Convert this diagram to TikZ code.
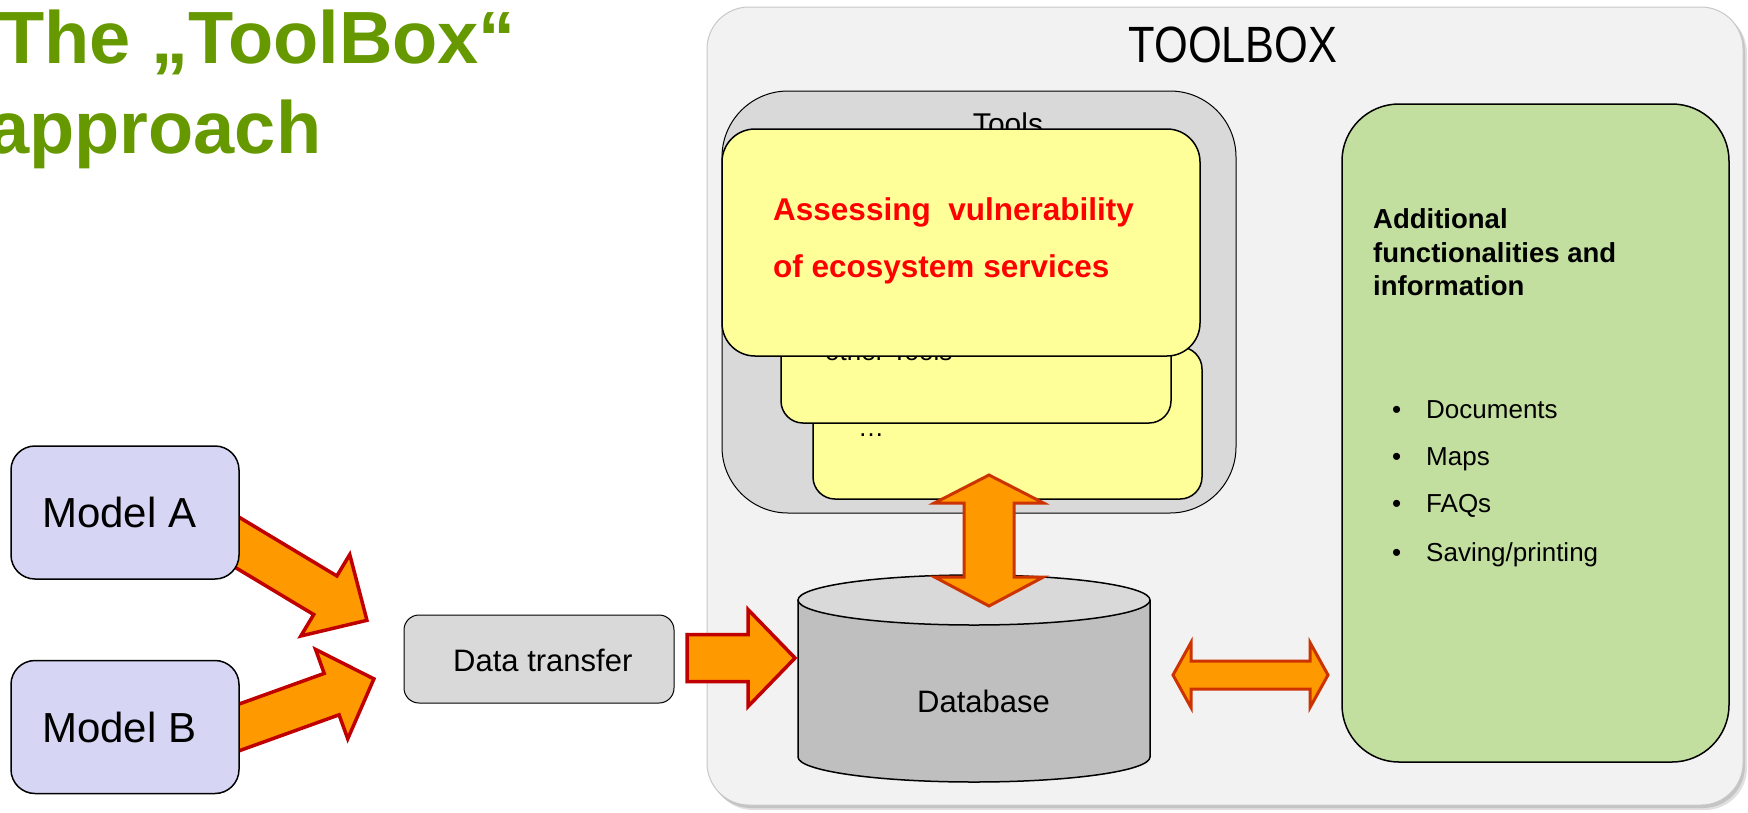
\documentclass[tikz,border=0pt]{standalone}
\usepackage{fontspec}
\setmainfont{Liberation Sans}
\definecolor{titlegreen}{HTML}{669900}
\definecolor{panelfill}{HTML}{F2F2F2}
\definecolor{panelline}{HTML}{C8C8C8}
\definecolor{toolsfill}{HTML}{D9D9D9}
\definecolor{yellowfill}{HTML}{FFFF99}
\definecolor{greenfill}{HTML}{C3DF9F}
\definecolor{modelfill}{HTML}{D6D6F4}
\definecolor{dtfill}{HTML}{D9D9D9}
\definecolor{dbtop}{HTML}{D9D9D9}
\definecolor{dbbody}{HTML}{BFBFBF}
\definecolor{arrowfill}{HTML}{FF9900}
\definecolor{arrowred}{HTML}{C00000}
\definecolor{arroworange}{HTML}{CC3300}
\definecolor{textred}{HTML}{FF0000}
\newcommand{\fsz}[1]{\fontsize{#1}{#1}\selectfont}
\tikzset{
  lbl/.style={inner sep=0pt, anchor=base west},
  shapebox/.style={inner sep=0pt, draw=black, line width=1.5pt},
  panelbox/.style={inner sep=0pt, fill=panelfill, draw=panelline, line width=1pt, rounded corners=42pt},
  toolsbox/.style={inner sep=0pt, fill=toolsfill, draw=black, line width=1pt, rounded corners=66pt},
  yellowbox/.style={shapebox, fill=yellowfill},
  greenbox/.style={shapebox, fill=greenfill, rounded corners=57pt},
  modelbox/.style={shapebox, fill=modelfill, rounded corners=24pt, minimum width=228pt, minimum height=133pt},
  dtbox/.style={shapebox, fill=dtfill, line width=1pt, rounded corners=15pt},
  fatarrow/.style={fill=arrowfill, draw=arrowred, line width=3.5pt, line join=miter},
  dblarrow/.style={fill=arrowfill, draw=arroworange, line width=3pt, line join=miter},
}
\begin{document}
\begin{tikzpicture}[x=1pt,y=-1pt]
\useasboundingbox (0,0) rectangle (1748,812);
\fill[white] (0,0) rectangle (1748,812);

% title
\node[lbl, text=titlegreen, font=\fsz{74}\bfseries] (title1) at (-1,63) {The „ToolBox“};
\node[lbl, text=titlegreen, font=\fsz{74}\bfseries] (title2) at (-12,153) {approach};

% toolbox panel with shadow
\fill[black, opacity=0.12, rounded corners=42pt] (711,11) rectangle (1747,810);
\fill[black, opacity=0.12, rounded corners=42pt] (709,9) rectangle (1745,808);
\node[panelbox, minimum width=1036pt, minimum height=798pt] (toolbox) at (1225,406) {};
\node[inner sep=0pt, anchor=base, font=\fsz{51}] (toolboxlbl) at (1233,62) {\scalebox{0.85}[1]{TOOLBOX}};

% tools container
\node[toolsbox, minimum width=514pt, minimum height=422pt] (tools) at (979,302) {};
\node[inner sep=0pt, anchor=base, font=\fsz{30}] (toolslbl) at (1008,134) {Tools};

% stacked tool boxes
\node[yellowbox, rounded corners=22pt, minimum width=389pt, minimum height=152pt] (box3) at (1007.5,423) {};
\node[lbl, font=\fsz{26}] (dots) at (858,436) {…};
\node[yellowbox, rounded corners=22pt, minimum width=390pt, minimum height=103pt] (box2) at (976,371.5) {};
\node[lbl, font=\fsz{26}] (otherlbl) at (825,360) {other Tools};
\node[yellowbox, rounded corners=33pt, minimum width=478pt, minimum height=227pt] (box1) at (961,242.5) {};
\node[lbl, text=textred, font=\fsz{31.5}\bfseries] (assess1) at (773,220) {Assessing\ \ vulnerability};
\node[lbl, text=textred, font=\fsz{31.5}\bfseries] (assess2) at (773,277) {of ecosystem services};

% additional functionalities
\node[greenbox, minimum width=387pt, minimum height=658pt] (addbox) at (1535.5,433) {};
\node[lbl, font=\fsz{27.5}\bfseries] (add1) at (1373,228) {Additional};
\node[lbl, font=\fsz{27.5}\bfseries] (add2) at (1373,262) {functionalities and};
\node[lbl, font=\fsz{27.5}\bfseries] (add3) at (1373,295) {information};
\foreach \y/\t/\n in {418/Documents/a, 465/Maps/b, 512/FAQs/c, 561/Saving\slash printing/d}{
  \node[lbl, font=\fsz{26}] (bul\n) at (1392,\y) {•};
  \node[lbl, font=\fsz{26}] (item\n) at (1426,\y) {\t};
}

% database cylinder
\fill[dbbody] (798,600) -- (798,757) .. controls (798,770.8) and (876.8,782) .. (974,782)
  .. controls (1071.2,782) and (1150,770.8) .. (1150,757) -- (1150,600) -- cycle;
\draw[line width=1.5pt] (798,600) -- (798,757) .. controls (798,770.8) and (876.8,782) .. (974,782)
  .. controls (1071.2,782) and (1150,770.8) .. (1150,757) -- (1150,600);
\draw[line width=1.5pt, fill=dbtop] (974,600) ellipse [x radius=176, y radius=25];
\node[lbl, font=\fsz{31}] (dblbl) at (917,712) {Database};

% arrows from models to data transfer
\begin{scope}[shift={(225,535)}, rotate=-31]
\draw[fatarrow] (0,-22.5) -- (117,-22.5) -- (117,-47.5) -- (165.6,0) -- (117,47.5) -- (117,22.5) -- (0,22.5) -- cycle;
\end{scope}
\begin{scope}[shift={(225.8,732.2)}, rotate=19.8]
\draw[fatarrow] (0,-22) -- (112.5,-22) -- (112.5,-47.5) -- (157.4,0) -- (112.5,47.5) -- (112.5,22) -- (0,22) -- cycle;
\end{scope}

% model boxes
\node[modelbox] (modela) at (125,512.5) {};
\node[lbl, font=\fsz{42}] (modelalbl) at (42,527) {Model A};
\node[modelbox] (modelb) at (125,727) {};
\node[lbl, font=\fsz{42}] (modelblbl) at (42,742) {Model B};

% data transfer
\node[dtbox, minimum width=270pt, minimum height=88pt] (dt) at (539,659) {};
\node[lbl, font=\fsz{31}] (dtlbl) at (453,671) {Data transfer};

% data transfer -> database
\draw[fatarrow] (687,634.5) -- (748,634.5) -- (748,609.5) -- (795,658) -- (748,706.5) -- (748,681.5) -- (687,681.5) -- cycle;

% tools <-> database
\draw[dblarrow] (989,475) -- (1043.5,503) -- (1014,503) -- (1014,577) -- (1043.5,577) -- (989,606)
  -- (934.5,577) -- (964,577) -- (964,503) -- (934.5,503) -- cycle;

% database <-> additional
\draw[dblarrow] (1173,675) -- (1191,642.5) -- (1191,661) -- (1310,661) -- (1310,642.5) -- (1328,675)
  -- (1310,707.5) -- (1310,689) -- (1191,689) -- (1191,707.5) -- cycle;
\end{tikzpicture}
\end{document}
